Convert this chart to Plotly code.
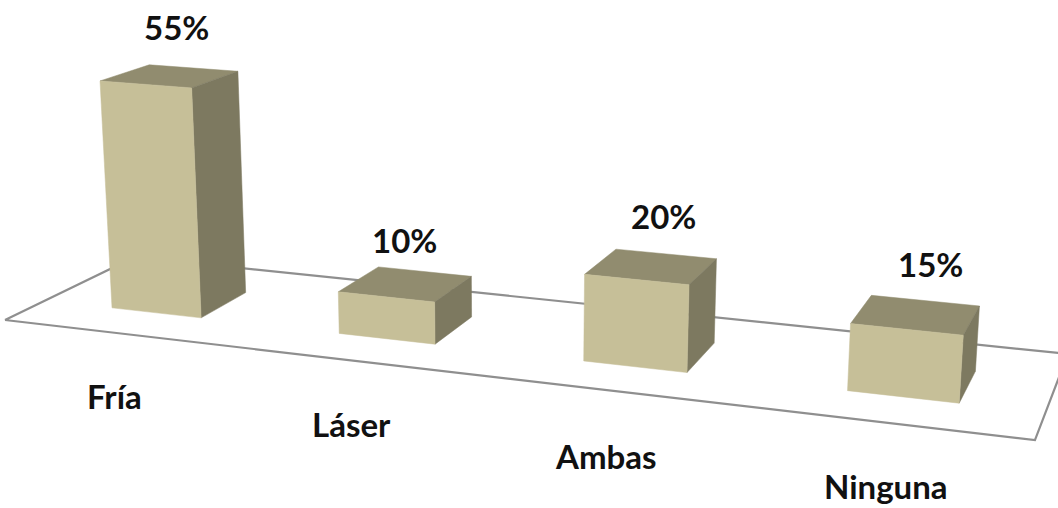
import plotly.graph_objects as go

# --- chart data ---
categories = ["Fría", "Láser", "Ambas", "Ninguna"]
values = [55, 10, 20, 15]

# --- colours ---
FRONT = "#C6BF98"
TOP = "#918C6F"
SIDE = "#7D7960"
FLOOR = "#8F8F8F"

# --- perspective camera (floor plane + vertical vanishing point), world units:
# X across the categories (0..1), Y depth (0..1), Z percent
G, H = -0.1444, 0.1091
A, B, C = 880.5, 144.7, 5.0
D, E, F = 56.5, -35.0, 320.0
VERT_VP = (512.0, 7878.0)
Z_SCALE = -0.00054

BAR_START, BAR_STEP, BAR_WIDTH = 0.0765, 0.2495, 0.10
DEPTH_FRONT, DEPTH_BACK = 0.29, 0.67

# label nudges in pixels
VALUE_XSHIFT = [7, -1, 12, 15]
VALUE_YSHIFT = [49, 44, 50, 51]
CATEGORY_XSHIFT = [-4, -4, -5, -2]
CATEGORY_YSHIFT = [63, 63.5, 65, 63.5]


def project(X, Y, Z=0.0):
    k = Z_SCALE * Z
    w = G * X + H * Y + 1 + k
    return ((A * X + B * Y + C + k * VERT_VP[0]) / w,
            (D * X + E * Y + F + k * VERT_VP[1]) / w)


def polygon_trace(points, color):
    pts = [project(*p) for p in points]
    pts.append(pts[0])
    return go.Scatter(x=[p[0] for p in pts], y=[p[1] for p in pts], mode="lines",
                      fill="toself", fillcolor=color,
                      line=dict(color=color, width=0.5), hoverinfo="skip", showlegend=False)


fig = go.Figure()

floor = [project(0, 0), project(1, 0), project(1, 1), project(0, 1), project(0, 0)]
fig.add_trace(go.Scatter(x=[p[0] for p in floor], y=[p[1] for p in floor], mode="lines",
                         line=dict(color=FLOOR, width=2.2), hoverinfo="skip", showlegend=False))

annotations = []
LABEL_FONT = dict(family="Lato, 'Open Sans', sans-serif", size=33, color="#111111", weight=700)

for i, (cat, val) in enumerate(zip(categories, values)):
    x0 = BAR_START + i * BAR_STEP
    x1 = x0 + BAR_WIDTH
    y0, y1 = DEPTH_FRONT, DEPTH_BACK
    fig.add_trace(polygon_trace([(x0, y0, val), (x1, y0, val), (x1, y1, val), (x0, y1, val)], TOP))
    fig.add_trace(polygon_trace([(x1, y0, 0), (x1, y1, 0), (x1, y1, val), (x1, y0, val)], SIDE))
    fig.add_trace(polygon_trace([(x0, y0, 0), (x1, y0, 0), (x1, y0, val), (x0, y0, val)], FRONT))

    xc = (x0 + x1) / 2
    tx, ty = project(xc, (y0 + y1) / 2, val)
    annotations.append(dict(x=tx, y=ty, xref="x", yref="y", text=f"{val}%", showarrow=False,
                            xshift=VALUE_XSHIFT[i], yshift=VALUE_YSHIFT[i], font=LABEL_FONT))
    cx, cy = project(xc, 0)
    annotations.append(dict(x=cx, y=cy, xref="x", yref="y", text=cat, showarrow=False,
                            xshift=CATEGORY_XSHIFT[i], yshift=-CATEGORY_YSHIFT[i], font=LABEL_FONT))

fig.update_layout(
    width=1058, height=508,
    margin=dict(l=0, r=0, t=0, b=0),
    paper_bgcolor="white", plot_bgcolor="white",
    xaxis=dict(range=[0, 1058], visible=False, fixedrange=True),
    yaxis=dict(range=[508, 0], visible=False, fixedrange=True),
    annotations=annotations,
    showlegend=False,
)
fig.write_html("out.html", config=dict(displayModeBar=False),
               post_script="document.body.style.margin='0';document.documentElement.style.overflow='hidden';")
